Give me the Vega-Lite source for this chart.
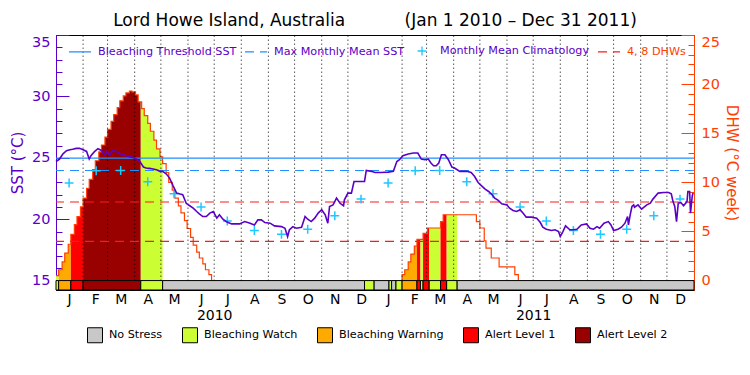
{
"$schema": "https://vega.github.io/schema/vega-lite/v6.json",
"width": 638, "height": 255,
"autosize": {"type": "none"},
"padding": {"left": 56, "top": 35, "right": 56, "bottom": 85},
"background": "white",
"title": {"text": "Lord Howe Island, Australia\u00a0\u00a0\u00a0\u00a0\u00a0\u00a0\u00a0\u00a0\u00a0\u00a0\u00a0(Jan 1 2010 \u2013 Dec 31 2011)", "font": "DejaVu Sans", "fontSize": 17, "fontWeight": "normal", "color": "black", "anchor": "middle", "frame": "group", "offset": 4},
"config": {
  "view": {"stroke": "black", "strokeWidth": 1},
  "font": "DejaVu Sans",
  "axis": {"grid": false, "labelFont": "DejaVu Sans", "titleFont": "DejaVu Sans", "titleFontWeight": "normal", "labelOverlap": false, "labelBound": false},
  "legend": {"labelFont": "DejaVu Sans", "padding": 0, "labelLimit": 0}
},
"datasets": {
  "sst": [
    {"date":"2010-01-01","sst":24.70},{"date":"2010-01-05","sst":24.90},{"date":"2010-01-09","sst":25.33},{"date":"2010-01-13","sst":25.58},{"date":"2010-01-17","sst":25.66},{"date":"2010-01-20","sst":25.70},{"date":"2010-01-24","sst":25.77},{"date":"2010-01-28","sst":25.77},{"date":"2010-02-01","sst":25.66},{"date":"2010-02-05","sst":25.52},{"date":"2010-02-08","sst":24.90},{"date":"2010-02-10","sst":25.17},{"date":"2010-02-14","sst":25.50},{"date":"2010-02-18","sst":25.74},{"date":"2010-02-22","sst":25.60},{"date":"2010-02-26","sst":25.25},{"date":"2010-02-28","sst":25.50},{"date":"2010-03-03","sst":25.25},{"date":"2010-03-07","sst":25.58},{"date":"2010-03-11","sst":25.52},{"date":"2010-03-15","sst":25.33},{"date":"2010-03-19","sst":25.25},{"date":"2010-03-22","sst":25.17},{"date":"2010-03-26","sst":25.10},{"date":"2010-03-30","sst":25.03},{"date":"2010-04-03","sst":24.90},{"date":"2010-04-07","sst":24.70},{"date":"2010-04-11","sst":24.25},{"date":"2010-04-14","sst":24.17},{"date":"2010-04-18","sst":24.14},{"date":"2010-04-22","sst":24.09},{"date":"2010-04-26","sst":24.03},{"date":"2010-04-30","sst":23.90},{"date":"2010-05-03","sst":23.90},{"date":"2010-05-07","sst":23.70},{"date":"2010-05-11","sst":23.35},{"date":"2010-05-15","sst":22.72},{"date":"2010-05-19","sst":22.13},{"date":"2010-05-23","sst":22.05},{"date":"2010-05-26","sst":22.00},{"date":"2010-05-30","sst":21.30},{"date":"2010-06-03","sst":21.10},{"date":"2010-06-07","sst":20.90},{"date":"2010-06-11","sst":20.63},{"date":"2010-06-14","sst":20.44},{"date":"2010-06-18","sst":20.22},{"date":"2010-06-22","sst":20.22},{"date":"2010-06-26","sst":20.50},{"date":"2010-06-30","sst":20.63},{"date":"2010-07-04","sst":20.09},{"date":"2010-07-07","sst":20.36},{"date":"2010-07-11","sst":20.00},{"date":"2010-07-15","sst":19.80},{"date":"2010-07-21","sst":19.62},{"date":"2010-07-30","sst":19.62},{"date":"2010-08-05","sst":19.81},{"date":"2010-08-11","sst":19.68},{"date":"2010-08-16","sst":19.54},{"date":"2010-08-20","sst":19.95},{"date":"2010-08-24","sst":19.95},{"date":"2010-08-28","sst":19.73},{"date":"2010-09-03","sst":19.68},{"date":"2010-09-08","sst":19.46},{"date":"2010-09-16","sst":19.40},{"date":"2010-09-20","sst":19.27},{"date":"2010-09-23","sst":18.59},{"date":"2010-09-25","sst":19.13},{"date":"2010-09-29","sst":19.40},{"date":"2010-10-03","sst":19.27},{"date":"2010-10-09","sst":19.35},{"date":"2010-10-13","sst":20.22},{"date":"2010-10-16","sst":20.00},{"date":"2010-10-20","sst":19.81},{"date":"2010-10-24","sst":20.09},{"date":"2010-10-28","sst":20.50},{"date":"2010-11-01","sst":20.77},{"date":"2010-11-05","sst":20.36},{"date":"2010-11-08","sst":19.68},{"date":"2010-11-10","sst":21.04},{"date":"2010-11-14","sst":21.17},{"date":"2010-11-18","sst":21.72},{"date":"2010-11-22","sst":21.30},{"date":"2010-11-26","sst":21.10},{"date":"2010-11-27","sst":21.58},{"date":"2010-12-01","sst":22.13},{"date":"2010-12-05","sst":22.13},{"date":"2010-12-08","sst":23.07},{"date":"2010-12-15","sst":23.07},{"date":"2010-12-20","sst":23.07},{"date":"2010-12-22","sst":23.97},{"date":"2010-12-28","sst":23.90},
    {"date":"2011-01-01","sst":23.80},{"date":"2011-01-08","sst":23.80},{"date":"2011-01-16","sst":23.84},{"date":"2011-01-22","sst":23.90},{"date":"2011-01-26","sst":24.70},{"date":"2011-01-29","sst":24.85},{"date":"2011-02-02","sst":25.17},{"date":"2011-02-08","sst":25.31},{"date":"2011-02-14","sst":25.39},{"date":"2011-02-19","sst":25.39},{"date":"2011-02-23","sst":24.90},{"date":"2011-02-27","sst":24.85},{"date":"2011-03-03","sst":24.90},{"date":"2011-03-06","sst":24.58},{"date":"2011-03-09","sst":24.36},{"date":"2011-03-12","sst":24.36},{"date":"2011-03-15","sst":24.58},{"date":"2011-03-18","sst":25.25},{"date":"2011-03-22","sst":25.25},{"date":"2011-03-26","sst":24.85},{"date":"2011-03-30","sst":24.25},{"date":"2011-04-02","sst":24.17},{"date":"2011-04-08","sst":23.90},{"date":"2011-04-16","sst":23.90},{"date":"2011-04-21","sst":23.80},{"date":"2011-04-25","sst":23.48},{"date":"2011-04-29","sst":22.99},{"date":"2011-05-03","sst":22.72},{"date":"2011-05-07","sst":22.45},{"date":"2011-05-11","sst":22.26},{"date":"2011-05-14","sst":22.07},{"date":"2011-05-18","sst":21.72},{"date":"2011-05-22","sst":21.53},{"date":"2011-05-26","sst":21.26},{"date":"2011-06-01","sst":21.17},{"date":"2011-06-04","sst":20.90},{"date":"2011-06-08","sst":20.71},{"date":"2011-06-12","sst":20.63},{"date":"2011-06-16","sst":20.77},{"date":"2011-06-20","sst":20.44},{"date":"2011-06-23","sst":20.17},{"date":"2011-06-29","sst":20.17},{"date":"2011-07-05","sst":20.09},{"date":"2011-07-09","sst":19.75},{"date":"2011-07-12","sst":19.35},{"date":"2011-07-16","sst":19.19},{"date":"2011-07-22","sst":19.08},{"date":"2011-07-26","sst":19.14},{"date":"2011-07-30","sst":19.00},{"date":"2011-08-01","sst":18.59},{"date":"2011-08-04","sst":19.00},{"date":"2011-08-07","sst":19.46},{"date":"2011-08-12","sst":19.14},{"date":"2011-08-16","sst":19.14},{"date":"2011-08-20","sst":19.19},{"date":"2011-08-25","sst":19.54},{"date":"2011-08-31","sst":19.62},{"date":"2011-09-04","sst":19.27},{"date":"2011-09-08","sst":19.19},{"date":"2011-09-12","sst":19.40},{"date":"2011-09-15","sst":19.27},{"date":"2011-09-20","sst":19.68},{"date":"2011-09-25","sst":19.81},{"date":"2011-09-28","sst":19.54},{"date":"2011-10-01","sst":19.08},{"date":"2011-10-06","sst":19.19},{"date":"2011-10-10","sst":19.35},{"date":"2011-10-14","sst":19.68},{"date":"2011-10-17","sst":20.22},{"date":"2011-10-18","sst":19.54},{"date":"2011-10-20","sst":20.36},{"date":"2011-10-22","sst":21.04},{"date":"2011-10-24","sst":21.17},{"date":"2011-10-25","sst":20.98},{"date":"2011-10-29","sst":21.17},{"date":"2011-11-02","sst":20.82},{"date":"2011-11-08","sst":21.17},{"date":"2011-11-12","sst":21.31},{"date":"2011-11-15","sst":21.64},{"date":"2011-11-21","sst":22.13},{"date":"2011-11-27","sst":22.18},{"date":"2011-12-03","sst":22.18},{"date":"2011-12-06","sst":22.07},{"date":"2011-12-08","sst":21.44},{"date":"2011-12-10","sst":21.04},{"date":"2011-12-12","sst":19.81},{"date":"2011-12-14","sst":21.31},{"date":"2011-12-17","sst":21.36},{"date":"2011-12-20","sst":21.10},{"date":"2011-12-24","sst":21.44},{"date":"2011-12-25","sst":22.26},{"date":"2011-12-27","sst":22.26},{"date":"2011-12-28","sst":20.50},{"date":"2011-12-30","sst":21.90},{"date":"2011-12-31","sst":22.13}
  ],
  "clim": [
    {"date":"2010-01-16","sst":22.95,"series":"Monthly Mean Climatology"},{"date":"2010-02-16","sst":23.95,"series":"Monthly Mean Climatology"},{"date":"2010-03-16","sst":23.97,"series":"Monthly Mean Climatology"},{"date":"2010-04-16","sst":23.05,"series":"Monthly Mean Climatology"},{"date":"2010-05-16","sst":22.07,"series":"Monthly Mean Climatology"},{"date":"2010-06-16","sst":21.00,"series":"Monthly Mean Climatology"},{"date":"2010-07-16","sst":19.85,"series":"Monthly Mean Climatology"},{"date":"2010-08-16","sst":19.08,"series":"Monthly Mean Climatology"},{"date":"2010-09-16","sst":18.77,"series":"Monthly Mean Climatology"},{"date":"2010-10-16","sst":19.19,"series":"Monthly Mean Climatology"},{"date":"2010-11-16","sst":20.28,"series":"Monthly Mean Climatology"},{"date":"2010-12-16","sst":21.64,"series":"Monthly Mean Climatology"},
    {"date":"2011-01-16","sst":22.95,"series":"Monthly Mean Climatology"},{"date":"2011-02-16","sst":23.95,"series":"Monthly Mean Climatology"},{"date":"2011-03-16","sst":23.97,"series":"Monthly Mean Climatology"},{"date":"2011-04-16","sst":23.05,"series":"Monthly Mean Climatology"},{"date":"2011-05-16","sst":22.07,"series":"Monthly Mean Climatology"},{"date":"2011-06-16","sst":21.00,"series":"Monthly Mean Climatology"},{"date":"2011-07-16","sst":19.85,"series":"Monthly Mean Climatology"},{"date":"2011-08-16","sst":19.08,"series":"Monthly Mean Climatology"},{"date":"2011-09-16","sst":18.77,"series":"Monthly Mean Climatology"},{"date":"2011-10-16","sst":19.19,"series":"Monthly Mean Climatology"},{"date":"2011-11-16","sst":20.28,"series":"Monthly Mean Climatology"},{"date":"2011-12-16","sst":21.64,"series":"Monthly Mean Climatology"}
  ],
  "sstlines": [{"series":"Bleaching Threshold SST","sst":24.97},{"series":"Max Monthly Mean SST","sst":23.97}],
  "dhwlines": [{"series":"4, 8 DHWs","dhw":4},{"series":"4, 8 DHWs","dhw":8}],
  "months": [{"date":"2010-02-01"},{"date":"2010-03-01"},{"date":"2010-04-01"},{"date":"2010-05-01"},{"date":"2010-06-01"},{"date":"2010-07-01"},{"date":"2010-08-01"},{"date":"2010-09-01"},{"date":"2010-10-01"},{"date":"2010-11-01"},{"date":"2010-12-01"},{"date":"2011-02-01"},{"date":"2011-03-01"},{"date":"2011-04-01"},{"date":"2011-05-01"},{"date":"2011-06-01"},{"date":"2011-07-01"},{"date":"2011-08-01"},{"date":"2011-09-01"},{"date":"2011-10-01"},{"date":"2011-11-01"},{"date":"2011-12-01"}],
  "dhw": [
    {"date":"2010-01-01","dhw":0.5,"event":"2010"},{"date":"2010-01-04","dhw":1.1,"event":"2010"},{"date":"2010-01-08","dhw":1.9,"event":"2010"},{"date":"2010-01-11","dhw":2.8,"event":"2010"},{"date":"2010-01-15","dhw":3.7,"event":"2010"},{"date":"2010-01-18","dhw":4.7,"event":"2010"},{"date":"2010-01-22","dhw":5.7,"event":"2010"},{"date":"2010-01-25","dhw":6.5,"event":"2010"},{"date":"2010-01-29","dhw":7.5,"event":"2010"},{"date":"2010-02-01","dhw":8.4,"event":"2010"},{"date":"2010-02-05","dhw":9.4,"event":"2010"},{"date":"2010-02-08","dhw":10.3,"event":"2010"},{"date":"2010-02-12","dhw":11.3,"event":"2010"},{"date":"2010-02-15","dhw":12.2,"event":"2010"},{"date":"2010-02-19","dhw":13.1,"event":"2010"},{"date":"2010-02-22","dhw":13.8,"event":"2010"},{"date":"2010-02-26","dhw":14.6,"event":"2010"},{"date":"2010-03-01","dhw":15.4,"event":"2010"},{"date":"2010-03-05","dhw":16.2,"event":"2010"},{"date":"2010-03-08","dhw":16.9,"event":"2010"},{"date":"2010-03-12","dhw":17.6,"event":"2010"},{"date":"2010-03-15","dhw":18.3,"event":"2010"},{"date":"2010-03-19","dhw":18.8,"event":"2010"},{"date":"2010-03-22","dhw":19.1,"event":"2010"},{"date":"2010-03-26","dhw":19.3,"event":"2010"},{"date":"2010-03-29","dhw":19.2,"event":"2010"},{"date":"2010-04-02","dhw":18.9,"event":"2010"},{"date":"2010-04-05","dhw":18.2,"event":"2010"},{"date":"2010-04-09","dhw":17.5,"event":"2010"},{"date":"2010-04-12","dhw":16.8,"event":"2010"},{"date":"2010-04-16","dhw":16.0,"event":"2010"},{"date":"2010-04-19","dhw":15.2,"event":"2010"},{"date":"2010-04-23","dhw":14.3,"event":"2010"},{"date":"2010-04-26","dhw":13.4,"event":"2010"},{"date":"2010-04-30","dhw":12.6,"event":"2010"},{"date":"2010-05-03","dhw":11.9,"event":"2010"},{"date":"2010-05-07","dhw":11.0,"event":"2010"},{"date":"2010-05-10","dhw":10.0,"event":"2010"},{"date":"2010-05-14","dhw":9.2,"event":"2010"},{"date":"2010-05-17","dhw":8.4,"event":"2010"},{"date":"2010-05-21","dhw":7.6,"event":"2010"},{"date":"2010-05-24","dhw":6.9,"event":"2010"},{"date":"2010-05-28","dhw":6.1,"event":"2010"},{"date":"2010-05-31","dhw":5.3,"event":"2010"},{"date":"2010-06-04","dhw":4.4,"event":"2010"},{"date":"2010-06-07","dhw":3.6,"event":"2010"},{"date":"2010-06-11","dhw":2.9,"event":"2010"},{"date":"2010-06-14","dhw":2.3,"event":"2010"},{"date":"2010-06-18","dhw":1.7,"event":"2010"},{"date":"2010-06-21","dhw":1.1,"event":"2010"},{"date":"2010-06-25","dhw":0.6,"event":"2010"},{"date":"2010-06-28","dhw":0,"event":"2010"},
    {"date":"2011-01-31","dhw":0,"event":"2011"},{"date":"2011-02-01","dhw":0.6,"event":"2011"},{"date":"2011-02-04","dhw":1.1,"event":"2011"},{"date":"2011-02-08","dhw":1.9,"event":"2011"},{"date":"2011-02-11","dhw":2.7,"event":"2011"},{"date":"2011-02-15","dhw":3.5,"event":"2011"},{"date":"2011-02-18","dhw":4.2,"event":"2011"},{"date":"2011-02-25","dhw":4.8,"event":"2011"},{"date":"2011-03-02","dhw":5.35,"event":"2011"},{"date":"2011-03-17","dhw":6.0,"event":"2011"},{"date":"2011-03-20","dhw":6.7,"event":"2011"},{"date":"2011-04-27","dhw":6.0,"event":"2011"},{"date":"2011-05-01","dhw":5.35,"event":"2011"},{"date":"2011-05-06","dhw":4.05,"event":"2011"},{"date":"2011-05-08","dhw":3.3,"event":"2011"},{"date":"2011-05-14","dhw":2.3,"event":"2011"},{"date":"2011-05-23","dhw":1.4,"event":"2011"},{"date":"2011-06-10","dhw":0.6,"event":"2011"},{"date":"2011-06-14","dhw":0,"event":"2011"}
  ],
  "fill": [
    {"date":"2010-01-01","dhw":0.5,"status":"Bleaching Watch","seg":"a"},{"date":"2010-01-04","dhw":0.5,"status":"Bleaching Watch","seg":"a"},
    {"date":"2010-01-04","dhw":1.1,"status":"Bleaching Warning","seg":"b"},{"date":"2010-01-08","dhw":1.9,"status":"Bleaching Warning","seg":"b"},{"date":"2010-01-11","dhw":2.8,"status":"Bleaching Warning","seg":"b"},{"date":"2010-01-15","dhw":3.7,"status":"Bleaching Warning","seg":"b"},{"date":"2010-01-18","dhw":3.7,"status":"Bleaching Warning","seg":"b"},
    {"date":"2010-01-18","dhw":4.7,"status":"Alert Level 1","seg":"c"},{"date":"2010-01-22","dhw":5.7,"status":"Alert Level 1","seg":"c"},{"date":"2010-01-25","dhw":6.5,"status":"Alert Level 1","seg":"c"},{"date":"2010-01-29","dhw":7.5,"status":"Alert Level 1","seg":"c"},{"date":"2010-02-01","dhw":7.5,"status":"Alert Level 1","seg":"c"},
    {"date":"2010-02-01","dhw":8.4,"status":"Alert Level 2","seg":"d"},{"date":"2010-02-05","dhw":9.4,"status":"Alert Level 2","seg":"d"},{"date":"2010-02-08","dhw":10.3,"status":"Alert Level 2","seg":"d"},{"date":"2010-02-12","dhw":11.3,"status":"Alert Level 2","seg":"d"},{"date":"2010-02-15","dhw":12.2,"status":"Alert Level 2","seg":"d"},{"date":"2010-02-19","dhw":13.1,"status":"Alert Level 2","seg":"d"},{"date":"2010-02-22","dhw":13.8,"status":"Alert Level 2","seg":"d"},{"date":"2010-02-26","dhw":14.6,"status":"Alert Level 2","seg":"d"},{"date":"2010-03-01","dhw":15.4,"status":"Alert Level 2","seg":"d"},{"date":"2010-03-05","dhw":16.2,"status":"Alert Level 2","seg":"d"},{"date":"2010-03-08","dhw":16.9,"status":"Alert Level 2","seg":"d"},{"date":"2010-03-12","dhw":17.6,"status":"Alert Level 2","seg":"d"},{"date":"2010-03-15","dhw":18.3,"status":"Alert Level 2","seg":"d"},{"date":"2010-03-19","dhw":18.8,"status":"Alert Level 2","seg":"d"},{"date":"2010-03-22","dhw":19.1,"status":"Alert Level 2","seg":"d"},{"date":"2010-03-26","dhw":19.3,"status":"Alert Level 2","seg":"d"},{"date":"2010-03-29","dhw":19.2,"status":"Alert Level 2","seg":"d"},{"date":"2010-04-02","dhw":18.9,"status":"Alert Level 2","seg":"d"},{"date":"2010-04-05","dhw":18.2,"status":"Alert Level 2","seg":"d"},{"date":"2010-04-08","dhw":18.2,"status":"Alert Level 2","seg":"d"},
    {"date":"2010-04-08","dhw":18.2,"status":"Bleaching Watch","seg":"e"},{"date":"2010-04-09","dhw":17.5,"status":"Bleaching Watch","seg":"e"},{"date":"2010-04-12","dhw":16.8,"status":"Bleaching Watch","seg":"e"},{"date":"2010-04-16","dhw":16.0,"status":"Bleaching Watch","seg":"e"},{"date":"2010-04-19","dhw":15.2,"status":"Bleaching Watch","seg":"e"},{"date":"2010-04-23","dhw":14.3,"status":"Bleaching Watch","seg":"e"},{"date":"2010-04-26","dhw":13.4,"status":"Bleaching Watch","seg":"e"},{"date":"2010-04-30","dhw":12.6,"status":"Bleaching Watch","seg":"e"},{"date":"2010-05-03","dhw":12.6,"status":"Bleaching Watch","seg":"e"},
    {"date":"2011-02-01","dhw":0.6,"status":"Bleaching Warning","seg":"f"},{"date":"2011-02-04","dhw":1.1,"status":"Bleaching Warning","seg":"f"},{"date":"2011-02-08","dhw":1.9,"status":"Bleaching Warning","seg":"f"},{"date":"2011-02-11","dhw":2.7,"status":"Bleaching Warning","seg":"f"},{"date":"2011-02-15","dhw":3.5,"status":"Bleaching Warning","seg":"f"},{"date":"2011-02-18","dhw":3.5,"status":"Bleaching Warning","seg":"f"},
    {"date":"2011-02-18","dhw":4.2,"status":"Alert Level 1","seg":"g"},{"date":"2011-02-22","dhw":4.2,"status":"Alert Level 1","seg":"g"},
    {"date":"2011-02-22","dhw":4.2,"status":"Bleaching Watch","seg":"h"},{"date":"2011-02-25","dhw":4.2,"status":"Bleaching Watch","seg":"h"},
    {"date":"2011-02-25","dhw":4.8,"status":"Alert Level 1","seg":"i"},{"date":"2011-03-02","dhw":5.35,"status":"Alert Level 1","seg":"i"},{"date":"2011-03-04","dhw":5.35,"status":"Alert Level 1","seg":"i"},
    {"date":"2011-03-04","dhw":5.35,"status":"Bleaching Watch","seg":"j"},{"date":"2011-03-17","dhw":5.35,"status":"Bleaching Watch","seg":"j"},
    {"date":"2011-03-17","dhw":6.0,"status":"Alert Level 1","seg":"k"},{"date":"2011-03-20","dhw":6.7,"status":"Alert Level 1","seg":"k"},{"date":"2011-03-24","dhw":6.7,"status":"Alert Level 1","seg":"k"},
    {"date":"2011-03-24","dhw":6.7,"status":"Bleaching Watch","seg":"l"},{"date":"2011-04-05","dhw":6.7,"status":"Bleaching Watch","seg":"l"}
  ],
  "status": [
    {"start":"2010-01-01","end":"2010-01-04","status":"Bleaching Watch"},
    {"start":"2010-01-04","end":"2010-01-18","status":"Bleaching Warning"},
    {"start":"2010-01-18","end":"2010-02-01","status":"Alert Level 1"},
    {"start":"2010-02-01","end":"2010-04-08","status":"Alert Level 2"},
    {"start":"2010-04-08","end":"2010-05-03","status":"Bleaching Watch"},
    {"start":"2010-05-03","end":"2010-12-20","status":"No Stress"},
    {"start":"2010-12-20","end":"2010-12-31","status":"Bleaching Watch"},
    {"start":"2010-12-31","end":"2011-01-17","status":"No Stress"},
    {"start":"2011-01-17","end":"2011-01-20","status":"Bleaching Watch"},
    {"start":"2011-01-20","end":"2011-01-25","status":"No Stress"},
    {"start":"2011-01-25","end":"2011-02-01","status":"Bleaching Watch"},
    {"start":"2011-02-01","end":"2011-02-18","status":"Bleaching Warning"},
    {"start":"2011-02-18","end":"2011-02-22","status":"Alert Level 1"},
    {"start":"2011-02-22","end":"2011-02-25","status":"Bleaching Watch"},
    {"start":"2011-02-25","end":"2011-03-04","status":"Alert Level 1"},
    {"start":"2011-03-04","end":"2011-03-17","status":"Bleaching Watch"},
    {"start":"2011-03-17","end":"2011-03-24","status":"Alert Level 1"},
    {"start":"2011-03-24","end":"2011-04-05","status":"Bleaching Watch"},
    {"start":"2011-04-05","end":"2012-01-01","status":"No Stress"}
  ]
},
"resolve": {"scale": {"x": "independent", "y": "independent"}},
"layer": [
  {
    "layer": [
      {
        "data": {"name": "fill"},
        "mark": {"type": "area", "interpolate": "step-after", "opacity": 1},
        "encoding": {
          "x": {"field": "date", "type": "temporal",
                "scale": {"type": "utc", "domain": [{"year": 2010, "month": 1, "date": 1, "utc": true}, {"year": 2012, "month": 1, "date": 1, "utc": true}]},
                "axis": {"orient": "bottom", "title": null, "tickCount": 100, "values": [{"year": 2010, "month": 7, "date": 1, "utc": true}, {"year": 2011, "month": 7, "date": 1, "utc": true}], "labelExpr": "utcFormat(datum.value, '%Y')", "ticks": false, "domain": false, "grid": false, "labelColor": "black", "labelFontSize": 14, "labelPadding": 18, "labelFlush": false}},
          "y": {"field": "dhw", "type": "quantitative", "stack": null,
                "scale": {"domain": [-0.96, 25], "nice": false, "zero": false},
                "axis": {"orient": "right", "title": "DHW (\u00b0C week)", "titleColor": "#ff4000", "titleFontSize": 15, "titlePadding": 4, "titleAngle": 90, "tickCount": 100, "format": "d",
                         "values": [0,1,2,3,4,5,6,7,8,9,10,11,12,13,14,15,16,17,18,19,20,21,22,23,24,25],
                         "labelExpr": "datum.value % 5 === 0 ? datum.label : ''",
                         "tickSize": {"condition": {"test": "datum.value % 5 === 0", "value": -13}, "value": -6},
                         "labelBaseline": {"condition": {"test": "datum.value === 25", "value": "top"}, "value": "middle"},
                         "tickColor": "#ff4000", "domainColor": "#ff4000", "labelColor": "#ff4000", "labelFontSize": 14.5, "labelPadding": 20, "grid": false}},
          "y2": {"datum": 0},
          "detail": {"field": "seg", "type": "nominal"},
          "fill": {"field": "status", "type": "nominal",
                   "scale": {"domain": ["No Stress", "Bleaching Watch", "Bleaching Warning", "Alert Level 1", "Alert Level 2"], "range": ["#c8c8c8", "#ccff33", "#ffaa00", "#ff0000", "#990000"]},
                   "legend": {"orient": "none", "legendX": 31, "legendY": 292, "direction": "horizontal", "title": null, "symbolType": "square", "symbolSize": 225, "symbolStrokeColor": "black", "symbolStrokeWidth": 1, "symbolOpacity": 1, "labelFontSize": 11.2, "labelColor": "black", "labelOffset": 6, "columnPadding": 17}}
        }
      },
      {
        "data": {"name": "dhw"},
        "mark": {"type": "line", "interpolate": "step-after", "color": "#ff4000", "strokeWidth": 1.2},
        "encoding": {
          "x": {"field": "date", "type": "temporal"},
          "y": {"field": "dhw", "type": "quantitative"},
          "detail": {"field": "event", "type": "nominal"}
        }
      },
      {
        "data": {"name": "dhwlines"},
        "mark": {"type": "rule", "strokeWidth": 1.2},
        "encoding": {
          "y": {"field": "dhw", "type": "quantitative"},
          "stroke": {"field": "series", "type": "nominal",
                     "scale": {"domain": ["Bleaching Threshold SST", "Max Monthly Mean SST", "Monthly Mean Climatology", "4, 8 DHWs"], "range": ["#1e90ff", "#1e90ff", "#1ec8ff", "#ff1a1a"]},
                     "legend": {"orient": "none", "legendX": 12, "legendY": 4, "direction": "horizontal", "title": null, "symbolSize": 484, "symbolStrokeWidth": 1.3, "labelFontSize": 11.2, "labelColor": {"expr": "datum.label === '4, 8 DHWs' ? '#ff4000' : '#5a00c8'"}, "labelOffset": 6, "columnPadding": 5}},
          "strokeDash": {"field": "series", "type": "nominal",
                     "scale": {"domain": ["Bleaching Threshold SST", "Max Monthly Mean SST", "Monthly Mean Climatology", "4, 8 DHWs"], "range": [[1,0],[9,6],[1,0],[9,6]]},
                     "legend": {"orient": "none", "legendX": 12, "legendY": 4, "direction": "horizontal", "title": null, "symbolSize": 484, "symbolStrokeWidth": 1.3, "labelFontSize": 11.2, "labelColor": {"expr": "datum.label === '4, 8 DHWs' ? '#ff4000' : '#5a00c8'"}, "labelOffset": 6, "columnPadding": 5}}
        }
      },
      {
        "data": {"name": "status"},
        "mark": {"type": "rect", "stroke": "black", "strokeWidth": 1},
        "encoding": {
          "x": {"field": "start", "type": "temporal"},
          "x2": {"field": "end"},
          "y": {"datum": 0},
          "y2": {"datum": -0.96},
          "fill": {"field": "status", "type": "nominal"}
        }
      }
    ]
  },
  {
    "layer": [
      {
        "data": {"name": "months"},
        "mark": {"type": "rule", "color": "black", "strokeWidth": 1, "strokeDash": [1, 3]},
        "encoding": {
          "x": {"field": "date", "type": "temporal",
                "scale": {"type": "utc", "domain": [{"year": 2010, "month": 1, "date": 1, "utc": true}, {"year": 2012, "month": 1, "date": 1, "utc": true}]},
                "axis": {"orient": "bottom", "title": null, "tickCount": 100,
                         "values": [{"year":2010,"month":1,"date":16,"utc":true},{"year":2010,"month":2,"date":15,"utc":true},{"year":2010,"month":3,"date":16,"utc":true},{"year":2010,"month":4,"date":16,"utc":true},{"year":2010,"month":5,"date":16,"utc":true},{"year":2010,"month":6,"date":16,"utc":true},{"year":2010,"month":7,"date":16,"utc":true},{"year":2010,"month":8,"date":16,"utc":true},{"year":2010,"month":9,"date":16,"utc":true},{"year":2010,"month":10,"date":16,"utc":true},{"year":2010,"month":11,"date":16,"utc":true},{"year":2010,"month":12,"date":16,"utc":true},{"year":2011,"month":1,"date":16,"utc":true},{"year":2011,"month":2,"date":15,"utc":true},{"year":2011,"month":3,"date":16,"utc":true},{"year":2011,"month":4,"date":16,"utc":true},{"year":2011,"month":5,"date":16,"utc":true},{"year":2011,"month":6,"date":16,"utc":true},{"year":2011,"month":7,"date":16,"utc":true},{"year":2011,"month":8,"date":16,"utc":true},{"year":2011,"month":9,"date":16,"utc":true},{"year":2011,"month":10,"date":16,"utc":true},{"year":2011,"month":11,"date":16,"utc":true},{"year":2011,"month":12,"date":16,"utc":true}],
                         "labelExpr": "substring(utcFormat(datum.value, '%b'), 0, 1)",
                         "ticks": false, "domain": true, "domainColor": "black", "grid": false, "labelColor": "black", "labelFontSize": 14, "labelPadding": 2, "labelFlush": false}},
          "y": {"datum": 15, "type": "quantitative",
                "scale": {"domain": [14.24, 35], "nice": false, "zero": false},
                "axis": {"orient": "left", "title": "SST (\u00b0C)", "titleColor": "#5a00c8", "titleFontSize": 15, "titlePadding": 6, "tickCount": 100, "format": "d",
                         "values": [15,16,17,18,19,20,21,22,23,24,25,26,27,28,29,30,31,32,33,34,35],
                         "labelExpr": "datum.value % 5 === 0 ? datum.label : ''",
                         "tickSize": {"condition": {"test": "datum.value % 5 === 0", "value": -13}, "value": -6},
                         "labelBaseline": {"condition": {"test": "datum.value === 35", "value": "top"}, "value": "middle"},
                         "tickColor": "#5a00c8", "domainColor": "#5a00c8", "labelColor": "#5a00c8", "labelFontSize": 14.5, "labelPadding": 19, "grid": false}},
          "y2": {"datum": 35}
        }
      },
      {
        "mark": {"type": "rule", "color": "black", "strokeWidth": 2, "strokeDash": [2, 2]},
        "encoding": {
          "x": {"datum": {"year": 2011, "month": 1, "date": 1, "utc": true}, "type": "temporal"},
          "y": {"datum": 15},
          "y2": {"datum": 35}
        }
      },
      {
        "data": {"name": "sstlines"},
        "mark": {"type": "rule", "strokeWidth": 1.2},
        "encoding": {
          "y": {"field": "sst", "type": "quantitative"},
          "stroke": {"field": "series", "type": "nominal",
                     "scale": {"domain": ["Bleaching Threshold SST", "Max Monthly Mean SST", "Monthly Mean Climatology", "4, 8 DHWs"], "range": ["#1e90ff", "#1e90ff", "#1ec8ff", "#ff1a1a"]},
                     "legend": {"orient": "none", "legendX": 12, "legendY": 4, "direction": "horizontal", "title": null, "symbolSize": 484, "symbolStrokeWidth": 1.3, "labelFontSize": 11.2, "labelColor": {"expr": "datum.label === '4, 8 DHWs' ? '#ff4000' : '#5a00c8'"}, "labelOffset": 6, "columnPadding": 5}},
          "strokeDash": {"field": "series", "type": "nominal",
                     "scale": {"domain": ["Bleaching Threshold SST", "Max Monthly Mean SST", "Monthly Mean Climatology", "4, 8 DHWs"], "range": [[1,0],[9,6],[1,0],[9,6]]},
                     "legend": {"orient": "none", "legendX": 12, "legendY": 4, "direction": "horizontal", "title": null, "symbolSize": 484, "symbolStrokeWidth": 1.3, "labelFontSize": 11.2, "labelColor": {"expr": "datum.label === '4, 8 DHWs' ? '#ff4000' : '#5a00c8'"}, "labelOffset": 6, "columnPadding": 5}}
        }
      },
      {
        "data": {"name": "clim"},
        "mark": {"type": "point", "filled": false, "strokeWidth": 1.5, "size": 500, "opacity": 1},
        "encoding": {
          "x": {"field": "date", "type": "temporal"},
          "y": {"field": "sst", "type": "quantitative"},
          "stroke": {"field": "series", "type": "nominal",
                     "scale": {"domain": ["Bleaching Threshold SST", "Max Monthly Mean SST", "Monthly Mean Climatology", "4, 8 DHWs"], "range": ["#1e90ff", "#1e90ff", "#1ec8ff", "#ff1a1a"]},
                     "legend": {"orient": "none", "legendX": 12, "legendY": 4, "direction": "horizontal", "title": null, "symbolSize": 484, "symbolStrokeWidth": 1.3, "labelFontSize": 11.2, "labelColor": {"expr": "datum.label === '4, 8 DHWs' ? '#ff4000' : '#5a00c8'"}, "labelOffset": 6, "columnPadding": 5}},
          "shape": {"field": "series", "type": "nominal",
                     "scale": {"domain": ["Bleaching Threshold SST", "Max Monthly Mean SST", "Monthly Mean Climatology", "4, 8 DHWs"], "range": ["stroke", "stroke", "M-0.4,0H0.4M0,-0.4V0.4", "stroke"]},
                     "legend": {"orient": "none", "legendX": 12, "legendY": 4, "direction": "horizontal", "title": null, "symbolSize": 484, "symbolStrokeWidth": 1.3, "labelFontSize": 11.2, "labelColor": {"expr": "datum.label === '4, 8 DHWs' ? '#ff4000' : '#5a00c8'"}, "labelOffset": 6, "columnPadding": 5}}
        }
      },
      {
        "data": {"name": "sst"},
        "mark": {"type": "line", "color": "#5a00c8", "strokeWidth": 1.6},
        "encoding": {
          "x": {"field": "date", "type": "temporal"},
          "y": {"field": "sst", "type": "quantitative"}
        }
      }
    ]
  }
]
}
